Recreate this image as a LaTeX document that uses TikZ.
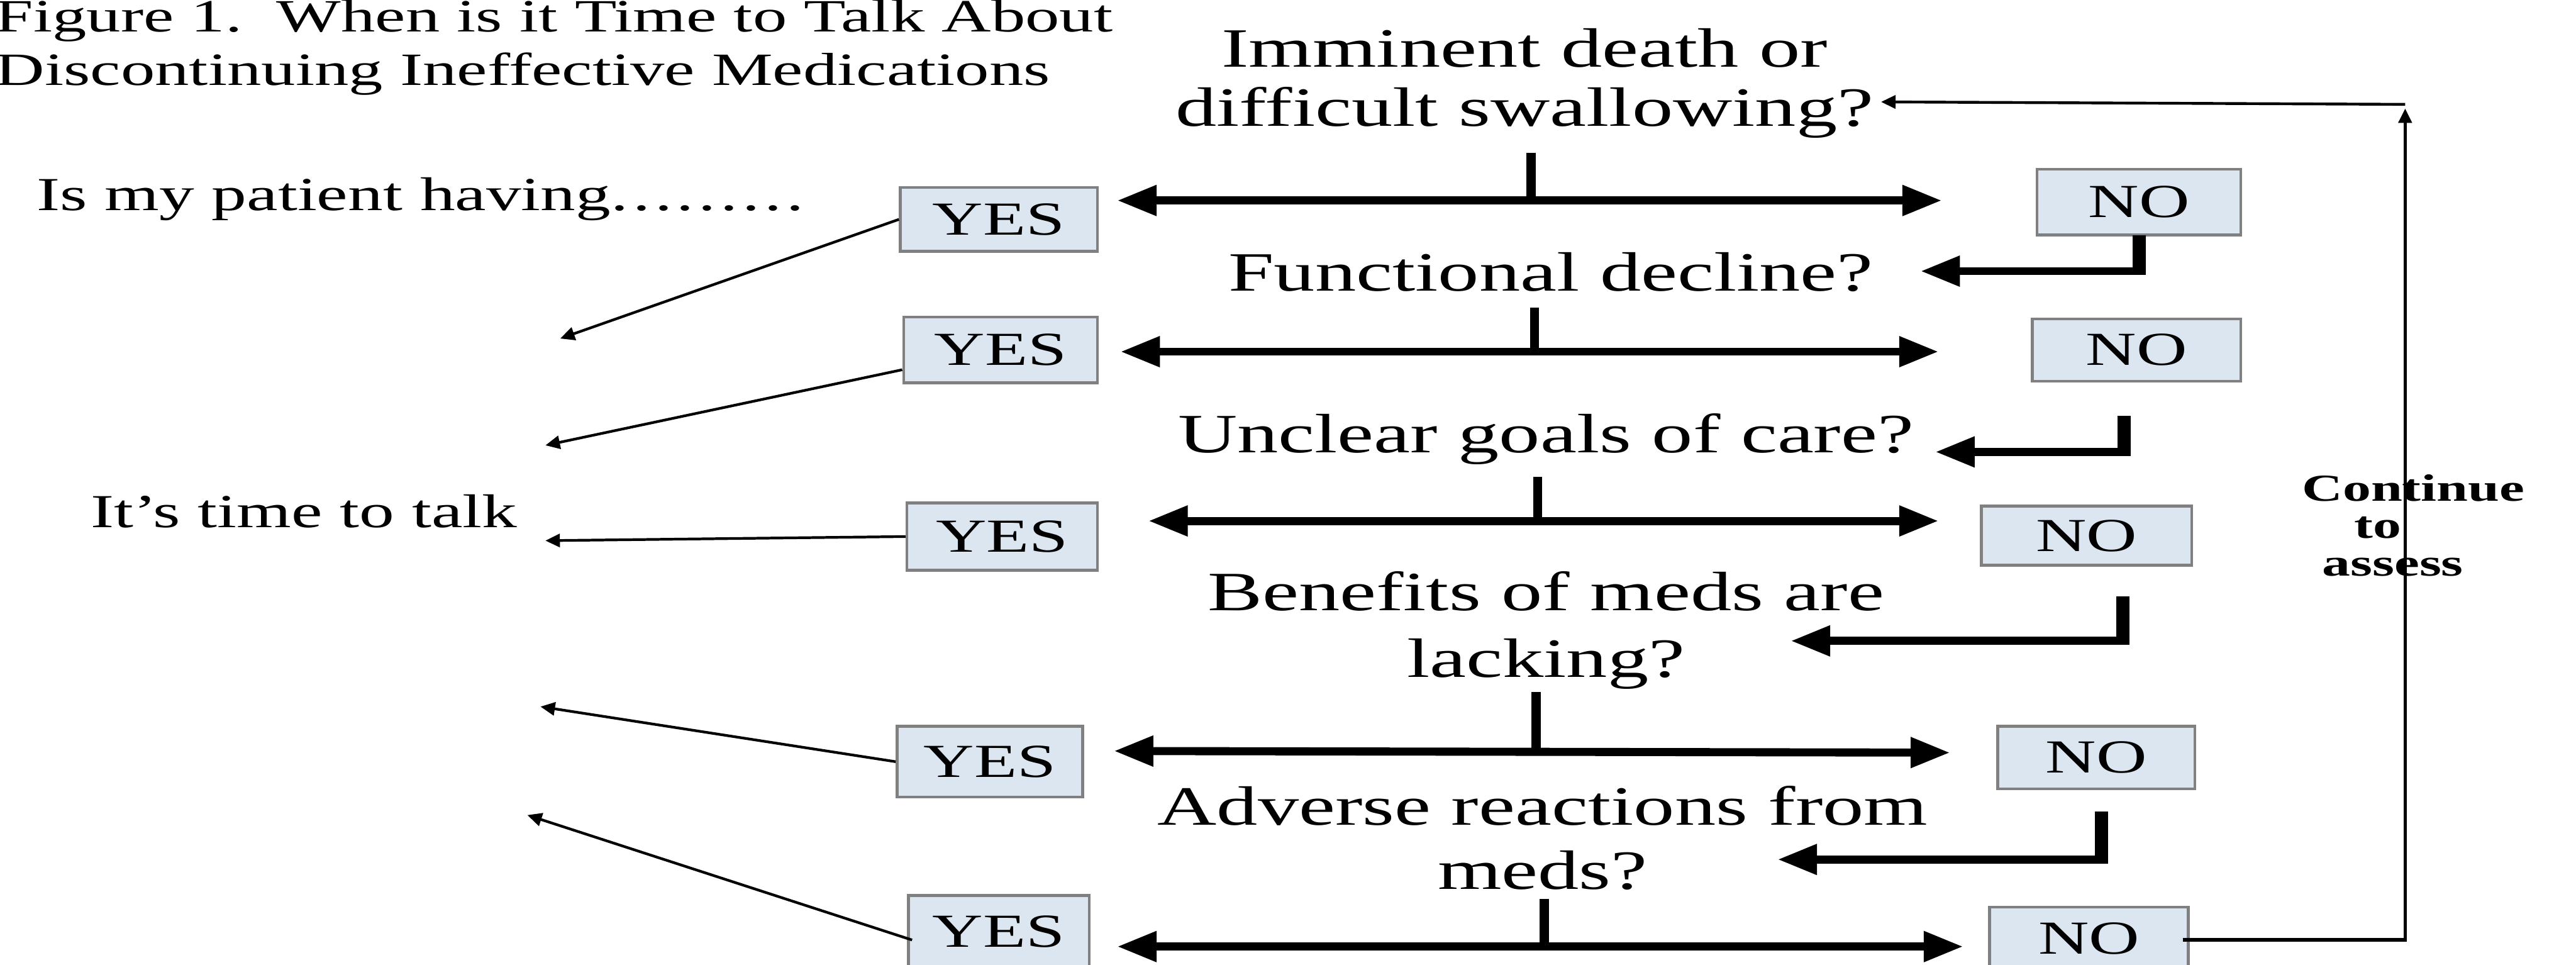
\documentclass[tikz,border=0pt]{standalone}
\usepackage{fontspec}
\setmainfont[FakeStretch=1.48]{Liberation Serif}
\usetikzlibrary{arrows.meta,calc}
\definecolor{boxblue}{RGB}{220,230,241}
\definecolor{boxgray}{RGB}{128,128,128}
\newcommand{\spdot}{.\kern1.9pt}
\begin{document}
\begin{tikzpicture}[x=0.025cm,y=-0.025cm,
  ttl/.style={inner sep=0pt, align=left, font=\fontsize{20}{23.1}\selectfont},
  side/.style={inner sep=0pt, font=\fontsize{20.5}{24}\selectfont},
  qtxt/.style={inner sep=0pt, align=center, font=\fontsize{24}{#1}\selectfont},
  qtxt/.default=27pt,
  cont/.style={inner sep=0pt, font=\fontsize{16.5}{20}\selectfont\bfseries},
  ans/.style={draw=boxgray, fill=boxblue, line width=1.2pt, inner sep=0pt,
              font=\fontsize{20.5}{24}\selectfont},
  bsize/.style 2 args={minimum width=#1*0.025cm, minimum height=#2*0.025cm},
  bigtip/.tip={Triangle[length=0.6cm,width=0.44cm]},
  smalltip/.tip={Triangle[length=0.22cm,width=0.2cm]},
  dbl/.style={line width=3.5pt, bigtip-bigtip},
  stub/.style={line width=3.9pt},
  elbowv/.style={line width=5.7pt, shorten >=-1.75pt},
  elbowh/.style={line width=3.5pt, -bigtip},
  thinarr/.style={line width=1.15pt, -smalltip},
  loopline/.style={line width=1.5pt}
]
\useasboundingbox (0,0) rectangle (1568,587);

% title and side texts (base anchor = baseline of the last line)
\node[ttl, anchor=base west] (title) at (-3,52) {Figure 1.\ \ When is it Time to Talk About\\Discontinuing Ineffective Medications};
\node[side, anchor=base west] (ask) at (22,128) {Is my patient having\spdot\spdot\spdot\spdot\spdot\spdot\spdot\spdot.};
\node[side, anchor=base west] (talk) at (55,321) {It’s time to talk};

% questions
\node[qtxt=25.6pt, anchor=base] (q1) at (928,76.7) {Imminent death or\\difficult swallowing?};
\node[qtxt, anchor=base] (q2) at (944,177) {Functional decline?};
\node[qtxt, anchor=base] (q3) at (941,275.5) {Unclear goals of care?};
\node[qtxt=28.8pt, anchor=base] (q4) at (941,412) {Benefits of meds are\\lacking?};
\node[qtxt=27.7pt, anchor=base] (q5) at (939,541) {Adverse reactions from\\meds?};

% answer boxes
\node[ans, bsize={120}{39}] (yes1) at (608,133.5) {YES};
\node[ans, bsize={118}{40}] (yes2) at (609,213) {YES};
\node[ans, bsize={116}{41}] (yes3) at (610,326.5) {YES};
\node[ans, bsize={113}{43}] (yes4) at (602.5,463.5) {YES};
\node[ans, bsize={110}{44}] (yes5) at (608,567) {YES};
\node[ans, bsize={124}{40}] (no1) at (1302,123) {NO};
\node[ans, bsize={127}{38}] (no2) at (1300.5,213) {NO};
\node[ans, bsize={128}{36}] (no3) at (1270,326) {NO};
\node[ans, bsize={120}{38}] (no4) at (1276,461) {NO};
\node[ans, bsize={121}{38}] (no5) at (1271.5,571) {NO};

% continue to assess
\node[cont, anchor=base] (cont1) at (1469,305) {Continue};
\node[cont, anchor=base] (cont2) at (1447.5,327.5) {to};
\node[cont, anchor=base] (cont3) at (1456.5,350.5) {assess};

% double arrows with stubs
\coordinate (a1l) at (680,122);  \coordinate (a1r) at (1182,122);
\coordinate (s1t) at (932,93);   \coordinate (s1b) at (932,122);
\coordinate (a2l) at (682,214);  \coordinate (a2r) at (1180,214);
\coordinate (s2t) at (934,187);  \coordinate (s2b) at (934,214);
\coordinate (a3l) at (699,317);  \coordinate (a3r) at (1180,317);
\coordinate (s3t) at (936,290);  \coordinate (s3b) at (936,317);
\coordinate (a4l) at (678,457);  \coordinate (a4r) at (1187,458);
\coordinate (s4t) at (935,421);  \coordinate (s4b) at (935,457.5);
\coordinate (a5l) at (680,576);  \coordinate (a5r) at (1195,576);
\coordinate (s5t) at (940,547);  \coordinate (s5b) at (940,576);
\foreach \i in {1,...,5}{
  \draw[dbl] (a\i l) -- (a\i r);
  \draw[stub] (s\i t) -- (s\i b);
}

% NO -> next question elbows
\coordinate (e1s) at (1302,143); \coordinate (e1c) at (1302,165); \coordinate (e1t) at (1169,165);
\coordinate (e2s) at (1293,253); \coordinate (e2c) at (1293,275); \coordinate (e2t) at (1178,275);
\coordinate (e3s) at (1292,363); \coordinate (e3c) at (1292,390); \coordinate (e3t) at (1090,390);
\coordinate (e4s) at (1279,494); \coordinate (e4c) at (1279,523); \coordinate (e4t) at (1082,523);
\foreach \i in {1,...,4}{
  \draw[elbowv] (e\i s) -- (e\i c);
  \draw[elbowh] (e\i c) -- (e\i t);
}

% YES -> it's time to talk
\coordinate (t1) at (341,206);
\coordinate (t2) at (332,271);
\coordinate (t3) at (332,329);
\coordinate (t4) at (329,430);
\coordinate (t5) at (321,496);
\draw[thinarr] (yes1.west) -- (t1);
\draw[thinarr] ($(yes2.west)+(0,12)$) -- (t2);
\draw[thinarr] (yes3.west) -- (t3);
\draw[thinarr] (yes4.west) -- (t4);
\draw[thinarr] ($(yes5.west)+(3,5)$) -- (t5);

% continue-to-assess loop
\coordinate (lc) at (1464,572);
\coordinate (lt) at (1464,66);
\coordinate (ltop) at (1464,63.5);
\coordinate (lq) at (1145,62);
\draw[loopline, -smalltip] ($(no5.east)+(-4,1)$) -- (lc) -- (lt);
\draw[line width=1.2pt, -smalltip] (ltop) -- (lq);
\end{tikzpicture}
\end{document}
